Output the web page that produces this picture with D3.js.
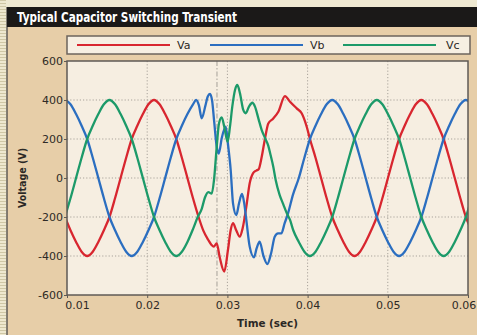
<!DOCTYPE html>
<html><head><meta charset="utf-8">
<script src="https://cdn.jsdelivr.net/npm/d3@7"></script>
<style>html,body{margin:0;padding:0;background:#efe9d2;overflow:hidden;} svg{display:block;}</style>
</head><body>
<svg id="chart" width="477" height="335"></svg>
<script>
// ---------- data (time in milliseconds, voltage in volts) ----------
const chartTitle = "Typical Capacitor Switching Transient";
const seriesNames = ["Va", "Vb", "Vc"];
const xTickValues = [10, 20, 30, 40, 50, 60];
const xTickLabels = ["0.01", "0.02", "0.03", "0.04", "0.05", "0.06"];
const yTickValues = [-600, -400, -200, 0, 200, 400, 600];
const yTickLabels = ["-600", "-400", "-200", "0", "200", "400", "600"];
const xTitle = "Time (sec)";
const yTitle = "Voltage (V)";
const switchTimeMs = 28.7;

const vaData = [
  [9.739,-200],[10.433,-268],[11.128,-328],[11.822,-378],[12.517,-400],[13.211,-378],
  [13.906,-328],[14.600,-268],[15.294,-200],[15.989,-104],[16.683,0],[17.378,104],
  [18.072,200],[18.767,268],[19.461,328],[20.156,378],[20.850,400],[21.544,378],
  [22.239,328],[22.933,268],[23.628,200],[24.322,104],[25.017,0],[25.711,-104],
  [26.406,-200],[27.0,-270],[27.62,-318],[28.0,-342],[28.3,-352],[28.66,-335],
  [29.07,-412],[29.61,-480],[30.07,-369],[30.41,-267],[30.70,-232],[31.1,-268],
  [31.53,-301],[31.9,-258],[32.36,-147],[32.78,-27],[33.19,24],[33.6,38],[33.9,45],
  [34.28,109],[34.69,203],[35.1,280],[35.72,305],[36.35,340],[37.18,420],[37.81,391],
  [38.64,357],[39.26,332],[39.89,263],
  [40.294,200],[40.989,104],[41.683,0],[42.378,-104],[43.072,-200],[43.767,-268],
  [44.461,-328],[45.156,-378],[45.850,-400],[46.544,-378],[47.239,-328],[47.933,-268],
  [48.628,-200],[49.322,-104],[50.017,0],[50.711,104],[51.406,200],[52.100,268],
  [52.794,328],[53.489,378],[54.183,400],[54.878,378],[55.572,328],[56.267,268],
  [56.961,200],[57.656,104],[58.350,0],[59.044,-104],[59.739,-200],[60.433,-268]
];

const vbData = [
  [9.739,400],[10.433,378],[11.128,328],[11.822,268],[12.517,200],[13.211,104],
  [13.906,0],[14.600,-104],[15.294,-200],[15.989,-268],[16.683,-328],[17.378,-378],
  [18.072,-400],[18.767,-378],[19.461,-328],[20.156,-268],[20.850,-200],[21.544,-104],
  [22.239,0],[22.933,104],[23.628,200],[24.322,268],[25.017,328],[25.711,378],
  [26.1,400],[26.45,372],[26.8,306],[27.25,370],[27.55,418],[27.83,431],[28.1,395],
  [28.35,290],[28.67,160],[28.92,125],[29.3,205],[29.79,263],[30.05,180],[30.41,41],
  [30.70,-130],[31.11,-190],[31.45,-130],[31.82,-82],[32.1,-130],[32.36,-215],
  [32.78,-352],[33.32,-407],[33.65,-360],[34.02,-327],[34.5,-400],[34.98,-441],
  [35.45,-386],[35.9,-301],[36.31,-284],[36.72,-284],[37.14,-232],[37.56,-181],
  [38.18,-85],
  [38.906,0],[39.600,104],[40.294,200],[40.989,268],[41.683,328],[42.378,378],
  [43.072,400],[43.767,378],[44.461,328],[45.156,268],[45.850,200],[46.544,104],
  [47.239,0],[47.933,-104],[48.628,-200],[49.322,-268],[50.017,-328],[50.711,-378],
  [51.406,-400],[52.100,-378],[52.794,-328],[53.489,-268],[54.183,-200],[54.878,-104],
  [55.572,0],[56.267,104],[56.961,200],[57.656,268],[58.350,328],[59.044,378],
  [59.739,400],[60.433,378]
];

const vcData = [
  [9.739,-200],[10.433,-104],[11.128,0],[11.822,104],[12.517,200],[13.211,268],
  [13.906,328],[14.600,378],[15.294,400],[15.989,378],[16.683,328],[17.378,268],
  [18.072,200],[18.767,104],[19.461,0],[20.156,-104],[20.850,-200],[21.544,-268],
  [22.239,-328],[22.933,-378],[23.628,-400],[24.322,-378],[25.017,-328],[25.711,-262],
  [26.3,-200],[26.8,-158],[27.2,-100],[27.62,-72],[28.04,-80],[28.33,-10],[28.67,161],
  [28.95,280],[29.29,311],[29.61,263],[30.03,186],[30.32,263],[30.61,366],[30.95,451],
  [31.24,477],[31.57,434],[31.98,349],[32.28,332],[32.69,366],[33.11,386],[33.44,366],
  [33.86,306],[34.28,246],[34.69,205],[35.1,165],[35.4,115],[35.72,58],[36.02,-10],
  [36.5,-85],[36.97,-135],[37.4,-180],[37.81,-215],
  [38.211,-268],[38.906,-328],[39.600,-378],[40.294,-400],[40.989,-378],[41.683,-328],
  [42.378,-268],[43.072,-200],[43.767,-104],[44.461,0],[45.156,104],[45.850,200],
  [46.544,268],[47.239,328],[47.933,378],[48.628,400],[49.322,378],[50.017,328],
  [50.711,268],[51.406,200],[52.100,104],[52.794,0],[53.489,-104],[54.183,-200],
  [54.878,-268],[55.572,-328],[56.267,-378],[56.961,-400],[57.656,-378],[58.350,-328],
  [59.044,-268],[59.739,-200],[60.433,-104]
];

// ---------- styling ----------
const colors = ["#d8262f", "#2b6ec0", "#1c9a69"];
const W = 477, H = 335;
const plot = {left: 67, right: 468, top: 61, bottom: 295};

const svg = d3.select("#chart");

// outer background + left stripes
svg.append("rect").attr("width", W).attr("height", H).attr("fill", "#efe9d2");
const defs = svg.append("defs");
const pat = defs.append("pattern").attr("id", "stripes").attr("width", 7).attr("height", 3)
  .attr("patternUnits", "userSpaceOnUse");
pat.append("rect").attr("width", 7).attr("height", 3).attr("fill", "#eee8cf");
pat.append("rect").attr("width", 7).attr("height", 1).attr("fill", "#cfc7a6");
svg.append("rect").attr("x", 0).attr("y", 0).attr("width", 6).attr("height", H).attr("fill", "url(#stripes)");

// tan panel
svg.append("rect").attr("x", 7).attr("y", 7).attr("width", W - 7).attr("height", H - 7).attr("fill", "#e7cea8");
svg.append("line").attr("x1", 7).attr("x2", 7).attr("y1", 7).attr("y2", H).attr("stroke", "#5e5a55").attr("stroke-width", 1.5);

// title bar
svg.append("rect").attr("x", 7).attr("y", 7).attr("width", W - 7).attr("height", 20).attr("fill", "#1b1918");
svg.append("text").attr("x", 17).attr("y", 22).text(chartTitle)
  .attr("fill", "#ffffff").attr("font-family", "'DejaVu Sans Condensed','Liberation Sans Narrow','DejaVu Sans',sans-serif")
  .attr("font-weight", "bold").attr("font-size", 14)
  .attr("textLength", 220).attr("lengthAdjust", "spacingAndGlyphs");

// legend
const legend = svg.append("g");
legend.append("rect").attr("x", 67).attr("y", 36).attr("width", 403).attr("height", 18)
  .attr("fill", "#f6efe2").attr("stroke", "#6c645c").attr("stroke-width", 1.5);
const legX = d3.scalePoint().domain(seriesNames).range([77, 343]);
seriesNames.forEach((n, i) => {
  const x0 = legX(n);
  legend.append("line").attr("x1", x0).attr("x2", x0 + 93).attr("y1", 45).attr("y2", 45)
    .attr("stroke", colors[i]).attr("stroke-width", 2.2);
  legend.append("text").attr("x", x0 + 100 + (i === 2 ? 3 : 0)).attr("y", 45).attr("dy", "0.35em").text(n)
    .attr("font-family", "'DejaVu Sans',sans-serif").attr("font-size", 11).attr("fill", "#2a2724");
});

// scales
const x = d3.scaleLinear().domain([10, 60]).range([plot.left, plot.right]);
const y = d3.scaleLinear().domain([-600, 600]).range([plot.bottom, plot.top]);

// plot background
svg.append("rect").attr("x", plot.left).attr("y", plot.top)
  .attr("width", plot.right - plot.left).attr("height", plot.bottom - plot.top).attr("fill", "#f6eee1");

// gridlines
const grid = svg.append("g").attr("stroke", "#a9a39b").attr("stroke-width", 1).attr("stroke-dasharray", "1.2,2");
grid.selectAll(".gx").data(xTickValues.slice(1, -1)).join("line")
  .attr("x1", d => x(d)).attr("x2", d => x(d)).attr("y1", plot.top).attr("y2", plot.bottom);
grid.selectAll(".gy").data(yTickValues.slice(1, -1)).join("line")
  .attr("x1", plot.left).attr("x2", plot.right).attr("y1", d => y(d)).attr("y2", d => y(d));

// switching instant marker
svg.append("line").attr("x1", x(switchTimeMs)).attr("x2", x(switchTimeMs))
  .attr("y1", plot.top).attr("y2", plot.bottom)
  .attr("stroke", "#b3ada5").attr("stroke-width", 1.2).attr("stroke-dasharray", "5,2,1.5,2");

// curves
defs.append("clipPath").attr("id", "clip").append("rect")
  .attr("x", plot.left).attr("y", plot.top).attr("width", plot.right - plot.left).attr("height", plot.bottom - plot.top);
const line = d3.line().x(d => x(d[0])).y(d => y(d[1])).curve(d3.curveMonotoneX);
const curves = svg.append("g").attr("clip-path", "url(#clip)");
[vaData, vbData, vcData].forEach((data, i) => {
  curves.append("path").datum(data).attr("d", line)
    .attr("fill", "none").attr("stroke", colors[i]).attr("stroke-width", 2.3)
    .attr("stroke-linejoin", "round").attr("stroke-linecap", "round");
});

// plot frame
svg.append("rect").attr("x", plot.left).attr("y", plot.top)
  .attr("width", plot.right - plot.left).attr("height", plot.bottom - plot.top)
  .attr("fill", "none").attr("stroke", "#5f5a55").attr("stroke-width", 1.5);

// axes
const fontAxis = "'DejaVu Sans',sans-serif";
const yAxis = svg.append("g").attr("transform", `translate(${plot.left},0)`)
  .call(d3.axisLeft(y).tickValues(yTickValues).tickFormat((d, i) => yTickLabels[i]).tickSize(3).tickPadding(1));
const xAxis = svg.append("g").attr("transform", `translate(0,${plot.bottom})`)
  .call(d3.axisBottom(x).tickValues(xTickValues).tickFormat((d, i) => xTickLabels[i]).tickSize(3).tickPadding(3));
[yAxis, xAxis].forEach(g => {
  g.select(".domain").remove();
  g.selectAll(".tick line").attr("stroke", "#5f5a55");
  g.selectAll("text").attr("font-family", fontAxis).attr("font-size", 11).attr("fill", "#2e2a26");
});
xAxis.selectAll(".tick text").attr("dx", (d, i) => i === 0 ? "0.9em" : (i === xTickValues.length - 1 ? "-0.4em" : 0));

// axis titles
svg.append("text").attr("transform", `translate(22,${(plot.top + plot.bottom) / 2}) rotate(-90)`)
  .attr("text-anchor", "middle").attr("dy", "0.35em").text(yTitle)
  .attr("font-family", "'DejaVu Sans Condensed','DejaVu Sans',sans-serif").attr("font-weight", "bold")
  .attr("font-size", 11).attr("fill", "#2b2825").attr("textLength", 60).attr("lengthAdjust", "spacingAndGlyphs");
svg.append("text").attr("x", (plot.left + plot.right) / 2).attr("y", 327)
  .attr("text-anchor", "middle").text(xTitle)
  .attr("font-family", "'DejaVu Sans Condensed','DejaVu Sans',sans-serif").attr("font-weight", "bold")
  .attr("font-size", 11).attr("fill", "#2b2825").attr("textLength", 61).attr("lengthAdjust", "spacingAndGlyphs");
</script>
</body></html>
